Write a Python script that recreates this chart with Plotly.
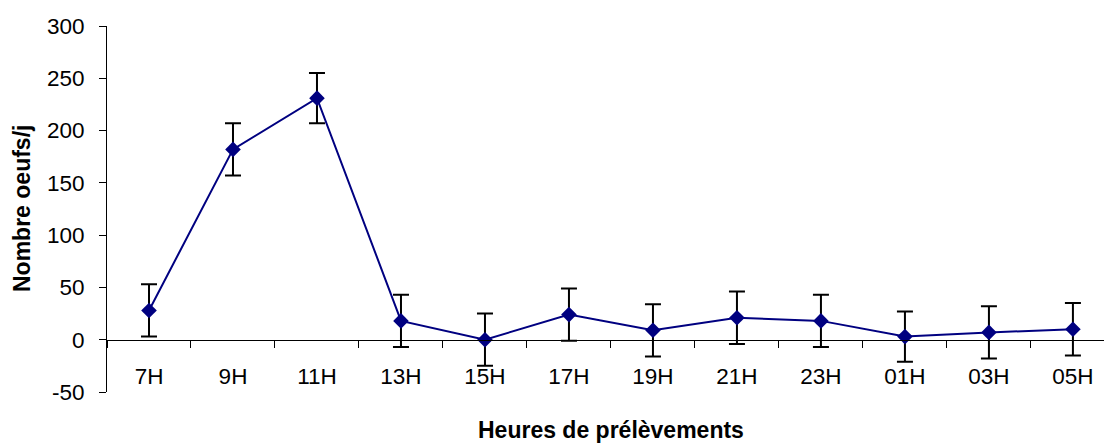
import plotly.graph_objects as go

categories = ["7H", "9H", "11H", "13H", "15H", "17H", "19H", "21H", "23H", "01H", "03H", "05H"]
values = [28, 182, 231, 18, 0, 24, 9, 21, 18, 3, 7, 10]
errors = [25, 25, 24, 25, 25, 25, 25, 25, 25, 24, 25, 25]
y_ticks = [-50, 0, 50, 100, 150, 200, 250, 300]
y_tick_labels = ["-50", "0", "50", "100", "150", "200", "250", "300"]

FONT = "Liberation Sans, Arial, sans-serif"

fig = go.Figure()
fig.add_trace(go.Scatter(
    x=categories, y=values,
    mode="lines+markers",
    line=dict(color="#000080", width=2),
    marker=dict(symbol="diamond", size=12, color="#000080"),
    error_y=dict(type="data", array=errors, visible=True,
                 color="black", thickness=2, width=8),
    showlegend=False,
))

fig.update_layout(
    width=1104, height=443,
    margin=dict(l=107, r=0, t=26, b=51),
    plot_bgcolor="white", paper_bgcolor="white",
    font=dict(family=FONT, size=22, color="black"),
    xaxis=dict(
        type="category", categoryorder="array", categoryarray=categories,
        range=[-0.5, 11.37],
        anchor="free", position=1/7,
        showline=True, linecolor="black", linewidth=1,
        ticks="outside", tickson="boundaries", ticklen=7, tickcolor="black",
        showgrid=False, zeroline=False, automargin=False,
        ticklabelstandoff=16,
        tickfont=dict(family=FONT, size=22.5),
    ),
    yaxis=dict(
        range=[-50, 300], tickvals=y_ticks, ticktext=y_tick_labels,
        showline=True, linecolor="black", linewidth=1,
        ticks="outside", ticklen=7, tickcolor="black",
        showgrid=False, zeroline=False, automargin=False,
        ticklabelstandoff=10,
        tickfont=dict(family=FONT, size=22.5),
    ),
    annotations=[
        dict(text="<b>Heures de prélèvements</b>", xref="paper", yref="paper",
             x=(611 - 107) / 997, y=0, xanchor="center", yanchor="middle", yshift=-38,
             showarrow=False, font=dict(family=FONT, size=23)),
        dict(text="<b>Nombre oeufs/j</b>", xref="paper", yref="paper",
             x=0, y=0.5, xanchor="center", yanchor="middle", xshift=-85,
             textangle=-90, showarrow=False, font=dict(family=FONT, size=23)),
    ],
)

# remove the browser's default page margin so the figure sits at the window's corner
fig.write_html("out.html", config={"displayModeBar": False},
               post_script="document.body.style.margin='0';")
